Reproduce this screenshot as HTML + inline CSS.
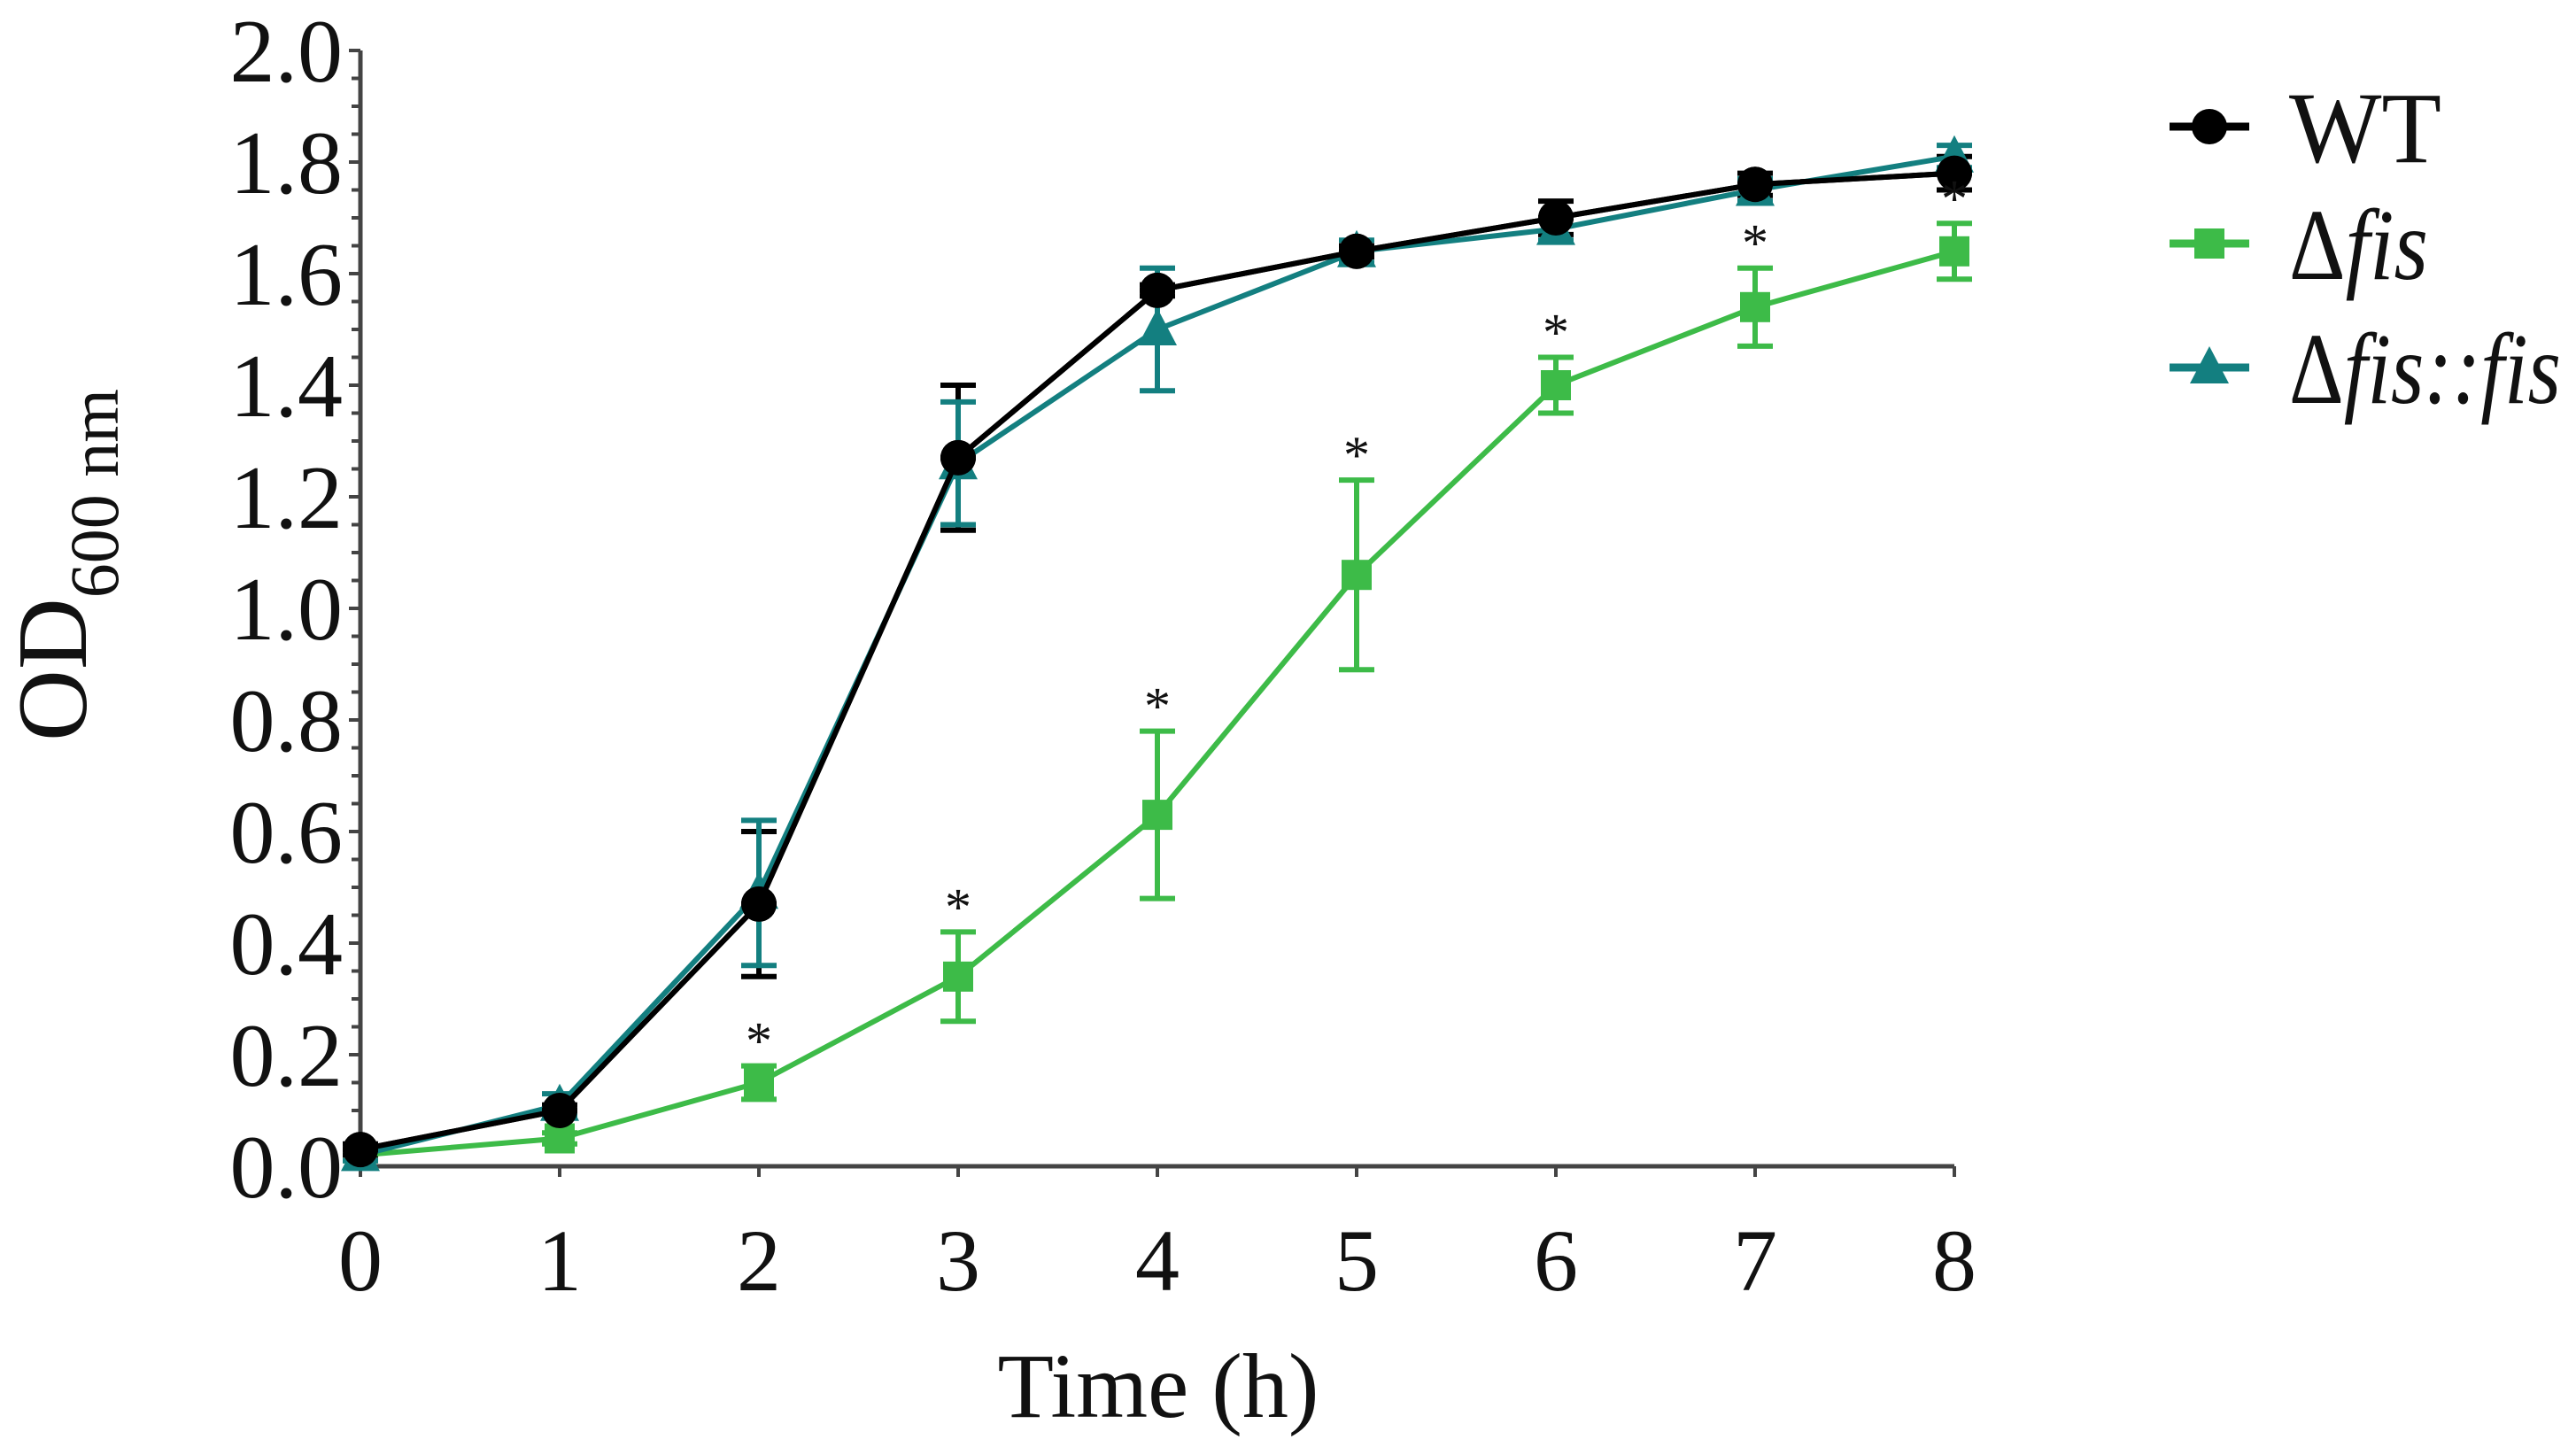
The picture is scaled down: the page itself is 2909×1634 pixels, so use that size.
<!DOCTYPE html>
<html><head><meta charset="utf-8"><style>
body{margin:0;background:#fff}
svg{display:block}
text{font-family:"Liberation Serif",serif;fill:#111}
</style></head><body>
<svg width="2909" height="1634" viewBox="0 0 2909 1634" id="chart">
<g id="axes"></g>
<g id="series"></g>
<text x="1308" y="1600" font-size="104" text-anchor="middle">Time (h)</text>
<text transform="translate(97,638) rotate(-90)" font-size="112" text-anchor="middle">OD<tspan font-size="78" dy="36">600 nm</tspan></text>
<g id="legend"></g>
</svg>
<script>
const hours=[0,1,2,3,4,5,6,7,8];
const wtMean=[0.03,0.10,0.47,1.27,1.57,1.64,1.70,1.76,1.78];
const wtErr=[0.01,0.01,0.13,0.13,0.01,0.01,0.03,0.02,0.03];
const fisMean=[0.02,0.05,0.15,0.34,0.63,1.06,1.40,1.54,1.64];
const fisErr=[0.01,0.01,0.03,0.08,0.15,0.17,0.05,0.07,0.05];
const compMean=[0.02,0.11,0.49,1.26,1.50,1.64,1.68,1.75,1.81];
const compErr=[0.01,0.02,0.13,0.11,0.11,0.02,0.02,0.02,0.02];
const starFlags=[0,0,1,1,1,1,1,1,1];
const yTicks=[0,0.2,0.4,0.6,0.8,1.0,1.2,1.4,1.6,1.8,2.0];
const xTicks=[0,1,2,3,4,5,6,7,8];
const NS="http://www.w3.org/2000/svg";
const X=v=>407+v*225;
const Y=v=>1317-v*630;
function mk(tag,attrs,parent){const e=document.createElementNS(NS,tag);for(const k in attrs)e.setAttribute(k,attrs[k]);parent.appendChild(e);return e;}
const axes=document.getElementById('axes');
let e=mk('line',{x1:X(0),y1:Y(0),x2:X(8),y2:Y(0),stroke:'#444','stroke-width':5},axes);


e=mk('line',{x1:X(0),y1:Y(0),x2:X(0),y2:Y(2),stroke:'#444','stroke-width':5},axes);


for(let i=0;i<=40;i++){const v=i*0.05;const t=mk('line',{x1:X(0)-(i%4==0?13:10),y1:Y(v),x2:X(0),y2:Y(v),stroke:'#444','stroke-width':4},axes);

}
yTicks.forEach(v=>{const t=mk('text',{x:X(0)-20,y:Y(v)+35,'font-size':102,'text-anchor':'end'},axes);t.textContent=v.toFixed(1);

});
xTicks.forEach(v=>{const l=mk('line',{x1:X(v),y1:Y(0),x2:X(v),y2:Y(0)+12,stroke:'#444','stroke-width':4},axes);


const t=mk('text',{x:X(v),y:1457,'font-size':100,'text-anchor':'middle'},axes);t.textContent=v;

});
const ser=document.getElementById('series');
function marker(shape,x,y,c,g,s){s=s||1;
 if(shape=='circle')return mk('circle',{cx:x,cy:y,r:20*s,fill:c},g);
 if(shape=='square')return mk('rect',{x:x-17*s,y:y-17*s,width:34*s,height:34*s,fill:c},g);
 return mk('polygon',{points:`${x},${y-24*s} ${x+22*s},${y+18*s} ${x-22*s},${y+18*s}`,fill:c},g);}
function draw(name,mean,err,color,shape){
 const g=mk('g',{},ser);
 
 
 const pts=hours.map((h,i)=>X(h)+','+Y(mean[i])).join(' ');
 const pl=mk('polyline',{points:pts,fill:'none',stroke:color,'stroke-width':6},g);
 
 
 hours.forEach((h,i)=>{
  const x=X(h),y1=Y(mean[i]+err[i]),y2=Y(mean[i]-err[i]);
  const eb=mk('path',{d:`M${x},${y1}V${y2}M${x-20},${y1}H${x+20}M${x-20},${y2}H${x+20}`,stroke:color,'stroke-width':6,fill:'none'},g);
  
  
  const m=marker(shape,x,Y(mean[i]),color,g);
  
  
 });}
draw('wt',wtMean,wtErr,'#000','circle');
draw('fis',fisMean,fisErr,'#3dbb48','square');
draw('fis-comp',compMean,compErr,'#137f80','triangle');
draw('wt-top',wtMean,wtErr.map(()=>0),'#000','circle');
hours.forEach((h,i)=>{if(!starFlags[i])return;
 const t=mk('text',{x:X(h),y:Y(fisMean[i]+fisErr[i])-8,'font-size':60,'text-anchor':'middle'},ser);t.textContent='*';
 
 });
const leg=document.getElementById('legend');
[['WT','#000','circle',143,172],['fis','#3dbb48','square',275,157],['fis::fis','#137f80','triangle',415,307]].forEach(([lab,c,sh,y,w])=>{
 const g=mk('g',{},leg);
 
 
 mk('line',{x1:2450,y1:y,x2:2540,y2:y,stroke:c,'stroke-width':9},g);
 marker(sh,2495,y,c,g);
 const t=mk('text',{x:2585,y:y+40,'font-size':114,textLength:w,lengthAdjust:'spacingAndGlyphs'},g);
 if(lab=='WT'){t.textContent='WT';}
 else{t.textContent='Δ';const ts=mk('tspan',{'font-style':'italic'},t);ts.textContent=lab=='fis'?'fis':'fis::fis';}
});
</script>
</body></html>
